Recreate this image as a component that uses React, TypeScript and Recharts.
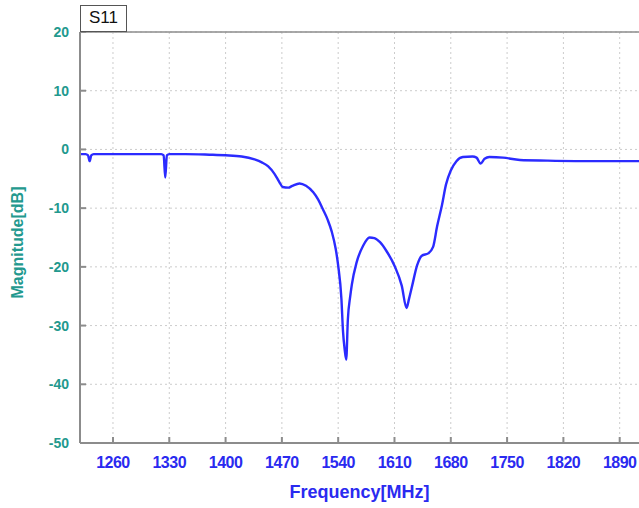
import { CartesianGrid, Line, LineChart, ReferenceLine, XAxis, YAxis } from 'recharts';

const CHART_WIDTH = 639;
const CHART_HEIGHT = 508;
const LINE_COLOR = '#2b2bff';
const X_TEXT_COLOR = '#2a2af0';
const Y_TEXT_COLOR = '#23998e';
const AXIS_COLOR = '#8c8c8c';
const GRID_COLOR = '#cccccc';
const FONT = '"Liberation Sans", Arial, sans-serif';

// frequency in MHz, S11 in dB
const frequencies = [
  1219, 1226, 1229, 1231, 1233, 1236, 1280, 1320, 1323, 1325, 1327, 1330, 1350, 1380, 1400,
  1420, 1436, 1445, 1453, 1461, 1467, 1471, 1478, 1483, 1492, 1500, 1509, 1515, 1521, 1527,
  1532, 1537, 1540, 1544, 1546, 1548, 1550, 1552, 1555, 1557, 1563, 1571, 1579, 1585, 1592,
  1600, 1610, 1619, 1625, 1628, 1632, 1638, 1644, 1652, 1658, 1663, 1669, 1674, 1680, 1687,
  1695, 1707, 1712, 1717, 1722, 1728, 1745, 1766, 1800, 1860, 1914,
];
const s11 = [
  -0.8, -0.8, -1.0, -2.0, -1.0, -0.8, -0.8, -0.8, -1.0, -4.8, -1.0, -0.8, -0.8, -0.9, -1.0,
  -1.2, -1.7, -2.2, -2.9, -4.2, -5.6, -6.4, -6.5, -6.2, -5.8, -6.2, -7.3, -8.5, -10.2, -12,
  -14, -17, -19.8, -25.4, -31, -34, -35.8, -29, -25, -23, -19.2, -16.4, -15, -15.1, -15.8,
  -17.3, -19.8, -23.2, -27, -25.5, -23.2, -19.8, -18.1, -17.7, -16.6, -13.1, -9.5, -6.0, -3.6, -2.0,
  -1.3, -1.2, -1.4, -2.4, -1.6, -1.3, -1.4, -1.8, -1.9, -2.0, -2.0,
];
const xTicks = [1260, 1330, 1400, 1470, 1540, 1610, 1680, 1750, 1820, 1890];
const yTicks = [-50, -40, -30, -20, -10, 0, 10, 20];

const data = frequencies.map((f, i) => ({ f, db: s11[i] }));

function YTitle({ viewBox }: any): JSX.Element {
  const cx = viewBox.x + 17;
  const cy = viewBox.y + viewBox.height / 2 + 5;
  return (
    <text
      x={cx}
      y={cy}
      transform={`rotate(-90 ${cx} ${cy})`}
      textAnchor="middle"
      dominantBaseline="central"
      fill={Y_TEXT_COLOR}
      fontSize={16}
      fontWeight="bold"
      fontFamily={FONT}
    >
      Magnitude[dB]
    </text>
  );
}

export default function App(): JSX.Element {
  return (
    <div style={{ position: 'absolute', left: 0, top: 0, width: CHART_WIDTH, height: CHART_HEIGHT, background: '#fff' }}>
      <LineChart width={CHART_WIDTH} height={CHART_HEIGHT} data={data} margin={{ top: 32, right: 0, bottom: 0, left: 0 }}>
        <CartesianGrid stroke={GRID_COLOR} strokeDasharray="2 3" verticalValues={xTicks} horizontalValues={yTicks} />
        <XAxis
          dataKey="f"
          type="number"
          domain={[1219, 1914]}
          ticks={xTicks}
          allowDataOverflow
          height={65}
          stroke={AXIS_COLOR}
          strokeWidth={2}
          tickSize={-6}
          tickMargin={20}
          tick={{ fill: X_TEXT_COLOR, fontSize: 16, fontWeight: 'bold', fontFamily: FONT, letterSpacing: -0.5 }}
          label={{
            value: 'Frequency[MHz]',
            position: 'insideBottom',
            offset: 10,
            fill: X_TEXT_COLOR,
            fontSize: 18,
            fontWeight: 'bold',
            fontFamily: FONT,
          }}
        />
        <YAxis
          type="number"
          domain={[-50, 20]}
          ticks={yTicks}
          width={80}
          stroke={AXIS_COLOR}
          strokeWidth={2}
          tickSize={-6}
          tickMargin={17}
          tick={{ fill: Y_TEXT_COLOR, fontSize: 14, fontWeight: 'bold', fontFamily: FONT }}
          label={<YTitle />}
        />
        <ReferenceLine y={20} stroke={AXIS_COLOR} strokeWidth={1.5} />
        <Line
          type="monotone"
          dataKey="db"
          stroke={LINE_COLOR}
          strokeWidth={2.4}
          dot={false}
          isAnimationActive={false}
        />
      </LineChart>
      <div
        style={{
          position: 'absolute',
          left: 80,
          top: 5,
          width: 47,
          height: 27,
          boxSizing: 'border-box',
          border: '1.5px solid #555',
          background: '#fff',
          fontFamily: FONT,
          fontSize: 17,
          lineHeight: '24px',
          textAlign: 'center',
          color: '#111',
        }}
      >
        S11
      </div>
    </div>
  );
}
